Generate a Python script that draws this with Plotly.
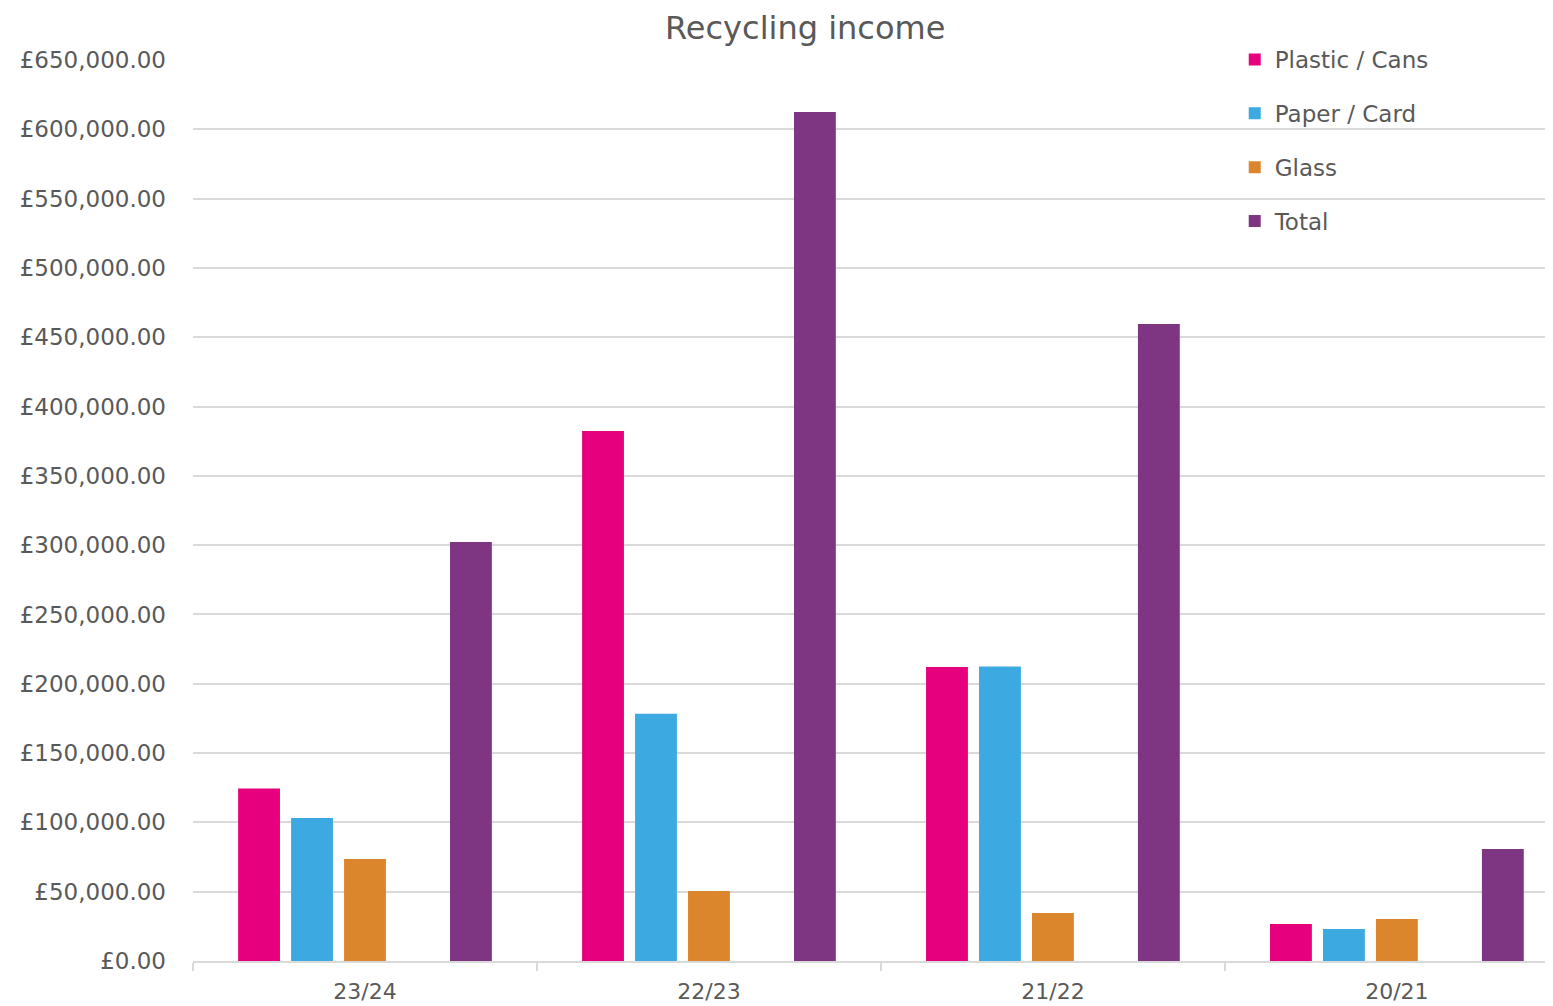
import plotly.graph_objects as go

categories = ["23/24", "22/23", "21/22", "20/21"]
plastic_cans = [124500, 382300, 212100, 26700]
paper_card = [103200, 178300, 212500, 23100]
glass = [73600, 50500, 34600, 30300]
total = [302300, 612500, 459600, 80800]
y_ticks = [0, 50000, 100000, 150000, 200000, 250000, 300000, 350000, 400000, 450000, 500000, 550000, 600000, 650000]
y_tick_labels = ["£0.00", "£50,000.00", "£100,000.00", "£150,000.00", "£200,000.00", "£250,000.00",
                 "£300,000.00", "£350,000.00", "£400,000.00", "£450,000.00", "£500,000.00",
                 "£550,000.00", "£600,000.00", "£650,000.00"]

FONT = "DejaVu Sans"
GREY = "#595959"

fig = go.Figure()
series = [
    ("Plastic / Cans", plastic_cans, "#E6007E"),
    ("Paper / Card", paper_card, "#3CA9E0"),
    ("Glass", glass, "#DB852C"),
]
for i, (name, vals, col) in enumerate(series):
    fig.add_trace(go.Bar(x=categories, y=vals, name=name, marker_color=col,
                         marker_line_width=0, legendgroup=f"g{i}"))
# empty slot (series with no data) between Glass and Total
fig.add_trace(go.Bar(x=categories, y=[None] * len(categories), name="", showlegend=False,
                     hoverinfo="skip"))
fig.add_trace(go.Bar(x=categories, y=total, name="Total", marker_color="#7E3682",
                     marker_line_width=0, legendgroup="g4"))

fig.update_layout(
    width=1545, height=998,
    barmode="group", bargap=0.23, bargroupgap=0.21,
    plot_bgcolor="white", paper_bgcolor="white",
    margin=dict(l=185, r=2, t=52, b=45, autoexpand=False),
    font=dict(family=FONT, color=GREY, size=20),
    title=dict(text="Recycling income", x=0.516, xref="container", xanchor="center",
               y=0.9805, yref="container", yanchor="middle",
               font=dict(family=FONT, size=32, color=GREY)),
    legend=dict(x=0.794, xref="container", y=0.970, yref="container",
                xanchor="left", yanchor="top", traceorder="grouped",
                tracegroupgap=21, font=dict(size=23, color=GREY), bgcolor="rgba(0,0,0,0)"),
    showlegend=True,
)
fig.update_yaxes(range=[0, 650000], tickvals=y_ticks, ticktext=y_tick_labels,
                 showgrid=True, gridcolor="#D9D9D9", gridwidth=1.5, zeroline=False,
                 showline=False, ticks="", ticklabelstandoff=26, automargin=False,
                 tickfont=dict(size=23, color=GREY))
fig.update_xaxes(range=[-0.5, 3.448], showline=True, linecolor="#D9D9D9", linewidth=1.5,
                 ticks="outside", tickson="boundaries", ticklen=8, tickcolor="#D9D9D9",
                 tickwidth=1.5, ticklabelstandoff=10, automargin=False,
                 tickfont=dict(size=22, color=GREY))

fig.write_html("out.html")
